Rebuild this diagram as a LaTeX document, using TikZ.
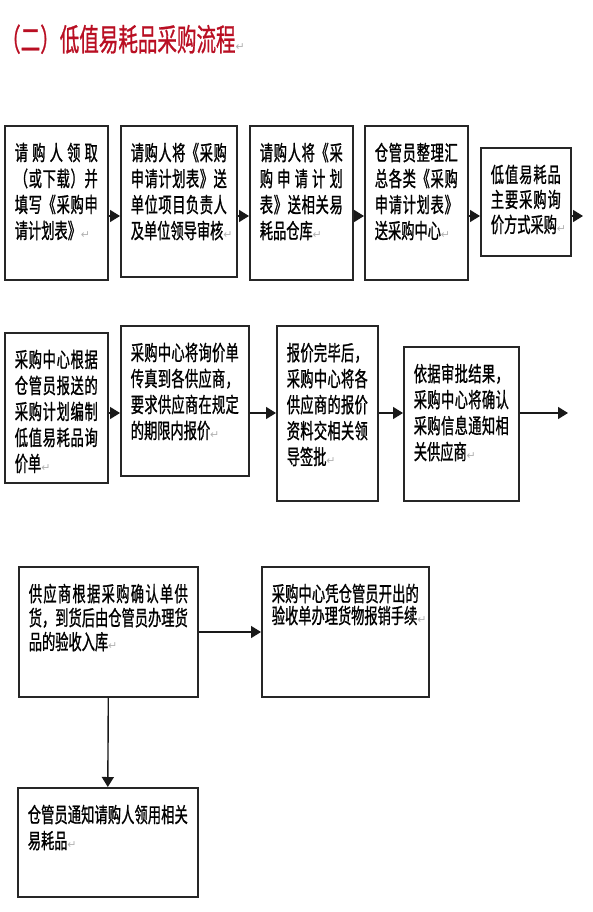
\documentclass[tikz,border=0pt]{standalone}
\usepackage{fontspec}
\usetikzlibrary{positioning,arrows.meta}
\setmainfont{Noto Sans CJK SC}
\newfontfamily\boxcjk[FakeStretch=0.63,FakeBold=1]{Noto Sans CJK SC}
\newfontfamily\titlecjk[FakeStretch=0.63,FakeBold=0.8]{Noto Sans CJK SC}
\newfontfamily\marksym{DejaVu Sans}
\definecolor{titlered}{RGB}{185,15,35}
\newcommand{\pmark}{{\marksym\fontsize{11}{11}\selectfont\color{gray!60}↵}}
% one justified line, chars spread to full width
\newcommand{\jl}[1]{\makebox[\linewidth][s]{\jlx#1\relax}\\}
\def\jlx#1{#1\jly}
\def\jly#1{\ifx\relax#1\else\hfil#1\expandafter\jly\fi}
\newcommand{\boxtxt}[3]{\parbox[c][\dimexpr#2pt-36pt\relax][t]{\dimexpr#1pt-20pt\relax}{#3}}

\begin{document}
\begin{tikzpicture}[
  x=1pt, y=-1pt,
  box/.style={draw=black!85, line width=1.6pt, anchor=north west,
    inner xsep=10pt, inner ysep=17pt, font=\boxcjk\fontsize{21}{26}\selectfont},
  flow/.style={draw=black!90, line width=1.4pt, -{Triangle[length=10pt,width=12pt]}}
]
  \useasboundingbox (0,0) rectangle (592,912);

  \node[anchor=base west, inner sep=0pt, text=titlered,
    font=\titlecjk\fontsize{31}{31}\selectfont] (title) at (1,51) {（二）低值易耗品采购流程\pmark};

  % row 1
  \node[box] (b1) at (4,125) {\boxtxt{103}{156}{\jl{请购人领取}\jl{（或下载）并}\jl{填写《采购申}请计划表》\pmark}};
  \node[box] (b2) at (120,125) {\boxtxt{116}{153}{\jl{请购人将《采购}\jl{申请计划表》送}\jl{单位项目负责人}及单位领导审核\pmark}};
  \node[box] (b3) at (249,125) {\boxtxt{103}{156}{\jl{请购人将《采}\jl{购申请计划}\jl{表》送相关易}耗品仓库\pmark}};
  \node[box] (b4) at (364,125) {\boxtxt{103}{156}{\jl{仓管员整理汇}\jl{总各类《采购}\jl{申请计划表》}送采购中心\pmark}};
  \node[box] (b5) at (480,147) {\boxtxt{90}{110}{\fontsize{21}{25}\selectfont\jl{低值易耗品}\jl{主要采购询}价方式采购\pmark}};

  % row 2
  \node[box] (b6) at (4,332) {\boxtxt{103}{152}{\jl{采购中心根据}\jl{仓管员报送的}\jl{采购计划编制}\jl{低值易耗品询}价单\pmark}};
  \node[box] (b7) at (120,325) {\boxtxt{128}{152}{\jl{采购中心将询价单}\jl{传真到各供应商，}\jl{要求供应商在规定}的期限内报价\pmark}};
  \node[box] (b8) at (276,325) {\boxtxt{101}{177}{\jl{报价完毕后，}\jl{采购中心将各}\jl{供应商的报价}\jl{资料交相关领}导签批\pmark}};
  \node[box] (b9) at (403,346) {\boxtxt{115}{156}{\jl{依据审批结果，}\jl{采购中心将确认}\jl{采购信息通知相}关供应商\pmark}};

  % row 3
  \node[box] (b10) at (18,566) {\boxtxt{179}{132}{\fontsize{21}{24}\selectfont\jl{供应商根据采购确认单供}\jl{货，到货后由仓管员办理货}品的验收入库\pmark}};
  \node[box] (b11) at (261,566) {\boxtxt{167}{132}{\fontsize{21}{22}\selectfont\jl{采购中心凭仓管员开出的}验收单办理货物报销手续\pmark}};
  \node[box] (b12) at (17,787) {\boxtxt{180}{111}{\jl{仓管员通知请购人领用相关}易耗品\pmark}};

  \coordinate (r1) at (0,216);
  \coordinate (r2) at (0,413);
  \coordinate (r3) at (0,632);
  \coordinate (e1) at (583,216);
  \coordinate (e2) at (568,413);

  \foreach \a/\b in {b1/b2,b2/b3,b3/b4,b4/b5}
    \draw[flow] (\a.east |- r1) -- (\b.west |- r1);
  \draw[flow] (b5.east |- r1) -- (e1);
  \foreach \a/\b in {b6/b7,b7/b8,b8/b9}
    \draw[flow] (\a.east |- r2) -- (\b.west |- r2);
  \draw[flow] (b9.east |- r2) -- (e2);
  \draw[flow] (b10.east |- r3) -- (b11.west |- r3);
  \draw[flow] (b10.south) -- (b12.north);

\end{tikzpicture}
\end{document}
